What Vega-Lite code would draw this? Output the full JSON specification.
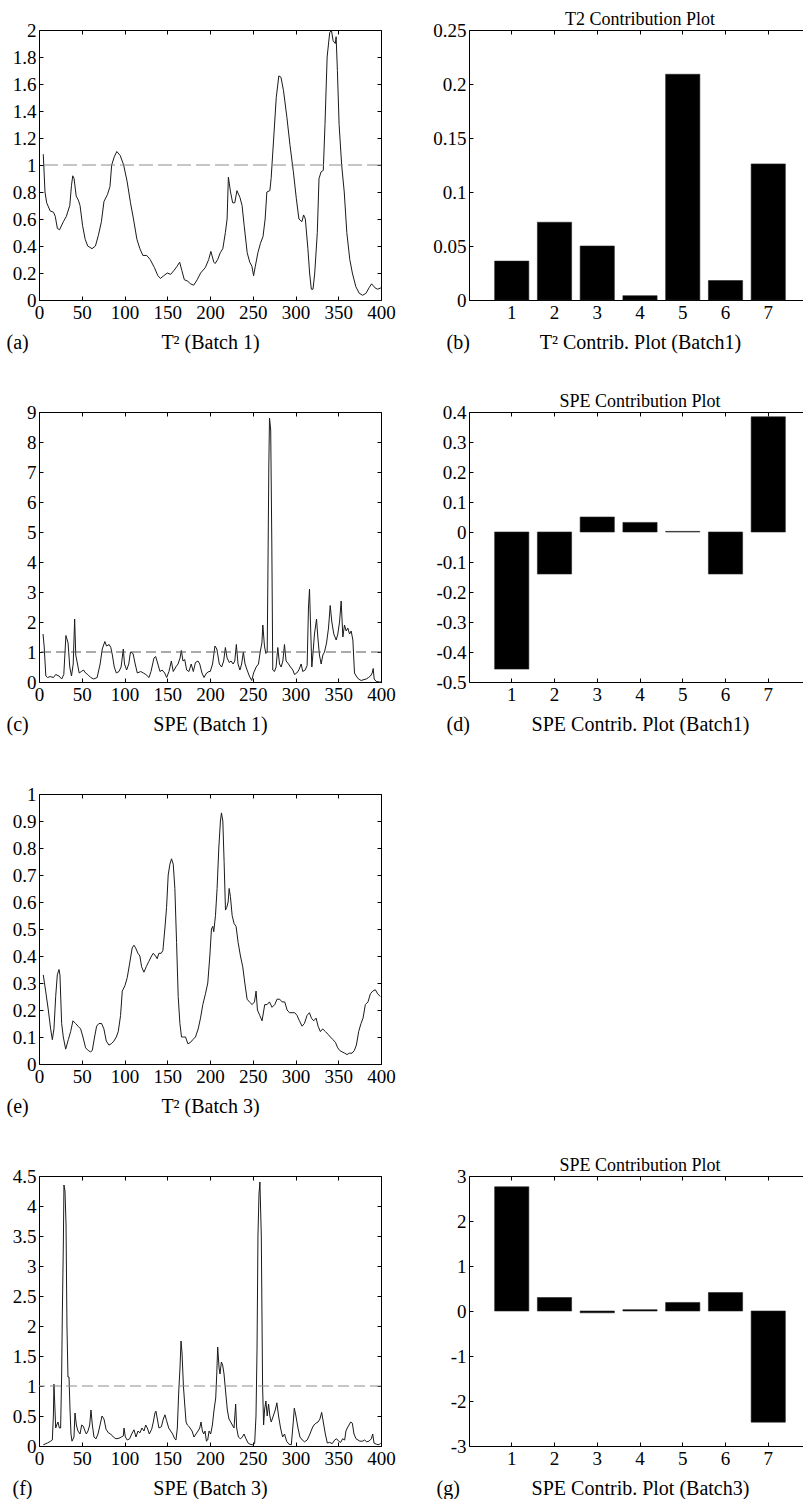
{
  "$schema": "https://vega.github.io/schema/vega-lite/v6.json",
  "background": "white",
  "padding": {"left": 5, "top": 10, "right": 0, "bottom": 0},
  "config": {
    "font": "Liberation Serif",
    "view": {"stroke": "black", "strokeWidth": 1},
    "axis": {"grid": false, "domain": false, "ticks": true, "tickColor": "black", "tickWidth": 1, "tickSize": -4, "labelFont": "Liberation Serif", "labelFontSize": 19, "labelColor": "black", "labelPadding": 7, "labelFlush": false, "labelOverlap": false, "labelBound": false, "titleFont": "Liberation Serif", "titleFontSize": 20, "titleFontWeight": "normal", "titleColor": "black"},
    "title": {"font": "Liberation Serif", "fontSize": 18, "fontWeight": "normal", "color": "black", "anchor": "middle", "frame": "group", "offset": -8}
  },
  "columns": 2,
  "spacing": {"row": 112, "column": 88},
  "bounds": "flush",
  "concat": [
    {
      "width": 342, "height": 270,
      "data": {"name": "a"},
      "layer": [
        {"mark": {"type": "line", "color": "#1a1a1a", "strokeWidth": 1},
         "encoding": {
           "x": {"field": "t", "type": "quantitative", "scale": {"domain": [0, 400], "nice": false, "zero": false},
                 "axis": {"orient": "bottom", "values": [0, 50, 100, 150, 200, 250, 300, 350, 400], "title": "T² (Batch 1)", "titleY": 42, "titleBaseline": "middle"}},
           "y": {"field": "v", "type": "quantitative", "scale": {"domain": [0, 2], "nice": false},
                 "axis": {"orient": "left", "values": [0, 0.2, 0.4, 0.6, 0.8, 1, 1.2, 1.4, 1.6, 1.8, 2], "labelExpr": "'' + datum.value", "title": "(a)", "titleAngle": 0, "titleX": -33, "titleY": 312, "titleAlign": "left", "titleBaseline": "middle"}}
         }},
        {"mark": {"type": "line", "opacity": 0},
         "encoding": {
           "x": {"field": "t", "type": "quantitative", "axis": {"orient": "top", "values": [0, 50, 100, 150, 200, 250, 300, 350, 400], "labels": false, "title": null}},
           "y": {"field": "v", "type": "quantitative", "axis": {"orient": "right", "values": [0, 0.2, 0.4, 0.6, 0.8, 1, 1.2, 1.4, 1.6, 1.8, 2], "labels": false, "title": null}}
         }},
        {"data": {"values": [{"limit": 1}]},
         "mark": {"type": "rule", "color": "#8c8c8c", "strokeWidth": 1, "strokeDash": [14, 5]},
         "encoding": {"y": {"field": "limit", "type": "quantitative", "axis": null}}}
      ],
      "resolve": {"axis": {"x": "independent", "y": "independent"}}
    },
    {
      "width": 342, "height": 270,
      "title": "T2 Contribution Plot",
      "data": {"name": "b"},
      "layer": [
        {"mark": {"type": "bar", "color": "black", "stroke": "#222", "strokeWidth": 0.6},
         "encoding": {
           "x": {"field": "k", "type": "ordinal", "scale": {"paddingInner": 0.2, "paddingOuter": 0.6},
                 "axis": {"orient": "bottom", "labelAngle": 0, "title": "T² Contrib. Plot (Batch1)", "titleY": 42, "titleBaseline": "middle"}},
           "y": {"field": "c", "type": "quantitative", "scale": {"domain": [0, 0.25], "nice": false},
                 "axis": {"orient": "left", "values": [0, 0.05, 0.1, 0.15, 0.2, 0.25], "labelExpr": "'' + datum.value", "title": "(b)", "titleAngle": 0, "titleX": -23, "titleY": 312, "titleAlign": "left", "titleBaseline": "middle"}}
         }},
        {"mark": {"type": "bar", "opacity": 0},
         "encoding": {
           "x": {"field": "k", "type": "ordinal", "axis": {"orient": "top", "labels": false, "title": null}},
           "y": {"field": "c", "type": "quantitative", "axis": {"orient": "right", "values": [0, 0.05, 0.1, 0.15, 0.2, 0.25], "labels": false, "title": null}}
         }}
      ],
      "resolve": {"axis": {"x": "independent", "y": "independent"}}
    },
    {
      "width": 342, "height": 270,
      "data": {"name": "c"},
      "layer": [
        {"mark": {"type": "line", "color": "#1a1a1a", "strokeWidth": 1},
         "encoding": {
           "x": {"field": "t", "type": "quantitative", "scale": {"domain": [0, 400], "nice": false, "zero": false},
                 "axis": {"orient": "bottom", "values": [0, 50, 100, 150, 200, 250, 300, 350, 400], "title": "SPE (Batch 1)", "titleY": 42, "titleBaseline": "middle"}},
           "y": {"field": "v", "type": "quantitative", "scale": {"domain": [0, 9], "nice": false},
                 "axis": {"orient": "left", "values": [0, 1, 2, 3, 4, 5, 6, 7, 8, 9], "labelExpr": "'' + datum.value", "title": "(c)", "titleAngle": 0, "titleX": -33, "titleY": 312, "titleAlign": "left", "titleBaseline": "middle"}}
         }},
        {"mark": {"type": "line", "opacity": 0},
         "encoding": {
           "x": {"field": "t", "type": "quantitative", "axis": {"orient": "top", "values": [0, 50, 100, 150, 200, 250, 300, 350, 400], "labels": false, "title": null}},
           "y": {"field": "v", "type": "quantitative", "axis": {"orient": "right", "values": [0, 1, 2, 3, 4, 5, 6, 7, 8, 9], "labels": false, "title": null}}
         }},
        {"data": {"values": [{"limit": 1}]},
         "mark": {"type": "rule", "color": "#555555", "strokeWidth": 1, "strokeDash": [10, 5]},
         "encoding": {"y": {"field": "limit", "type": "quantitative", "axis": null}}}
      ],
      "resolve": {"axis": {"x": "independent", "y": "independent"}}
    },
    {
      "width": 342, "height": 270,
      "title": "SPE Contribution Plot",
      "data": {"name": "d"},
      "layer": [
        {"mark": {"type": "bar", "color": "black", "stroke": "#222", "strokeWidth": 0.6},
         "encoding": {
           "x": {"field": "k", "type": "ordinal", "scale": {"paddingInner": 0.2, "paddingOuter": 0.6},
                 "axis": {"orient": "bottom", "labelAngle": 0, "title": "SPE Contrib. Plot (Batch1)", "titleY": 42, "titleBaseline": "middle"}},
           "y": {"field": "c", "type": "quantitative", "scale": {"domain": [-0.5, 0.4], "nice": false},
                 "axis": {"orient": "left", "values": [-0.5, -0.4, -0.3, -0.2, -0.1, 0, 0.1, 0.2, 0.3, 0.4], "labelExpr": "'' + datum.value", "title": "(d)", "titleAngle": 0, "titleX": -23, "titleY": 312, "titleAlign": "left", "titleBaseline": "middle"}}
         }},
        {"mark": {"type": "bar", "opacity": 0},
         "encoding": {
           "x": {"field": "k", "type": "ordinal", "axis": {"orient": "top", "labels": false, "title": null}},
           "y": {"field": "c", "type": "quantitative", "axis": {"orient": "right", "values": [-0.5, -0.4, -0.3, -0.2, -0.1, 0, 0.1, 0.2, 0.3, 0.4], "labels": false, "title": null}}
         }}
      ],
      "resolve": {"axis": {"x": "independent", "y": "independent"}}
    },
    {
      "width": 342, "height": 270,
      "data": {"name": "e"},
      "layer": [
        {"mark": {"type": "line", "color": "#1a1a1a", "strokeWidth": 1},
         "encoding": {
           "x": {"field": "t", "type": "quantitative", "scale": {"domain": [0, 400], "nice": false, "zero": false},
                 "axis": {"orient": "bottom", "values": [0, 50, 100, 150, 200, 250, 300, 350, 400], "title": "T² (Batch 3)", "titleY": 42, "titleBaseline": "middle"}},
           "y": {"field": "v", "type": "quantitative", "scale": {"domain": [0, 1], "nice": false},
                 "axis": {"orient": "left", "values": [0, 0.1, 0.2, 0.3, 0.4, 0.5, 0.6, 0.7, 0.8, 0.9, 1], "labelExpr": "'' + datum.value", "title": "(e)", "titleAngle": 0, "titleX": -33, "titleY": 312, "titleAlign": "left", "titleBaseline": "middle"}}
         }},
        {"mark": {"type": "line", "opacity": 0},
         "encoding": {
           "x": {"field": "t", "type": "quantitative", "axis": {"orient": "top", "values": [0, 50, 100, 150, 200, 250, 300, 350, 400], "labels": false, "title": null}},
           "y": {"field": "v", "type": "quantitative", "axis": {"orient": "right", "values": [0, 0.1, 0.2, 0.3, 0.4, 0.5, 0.6, 0.7, 0.8, 0.9, 1], "labels": false, "title": null}}
         }}
      ],
      "resolve": {"axis": {"x": "independent", "y": "independent"}}
    },
    {
      "width": 342, "height": 270,
      "data": {"values": []},
      "mark": "point",
      "view": {"stroke": null}
    },
    {
      "width": 342, "height": 270,
      "data": {"name": "f"},
      "layer": [
        {"mark": {"type": "line", "color": "#1a1a1a", "strokeWidth": 1},
         "encoding": {
           "x": {"field": "t", "type": "quantitative", "scale": {"domain": [0, 400], "nice": false, "zero": false},
                 "axis": {"orient": "bottom", "values": [0, 50, 100, 150, 200, 250, 300, 350, 400], "title": "SPE (Batch 3)", "titleY": 42, "titleBaseline": "middle"}},
           "y": {"field": "v", "type": "quantitative", "scale": {"domain": [0, 4.5], "nice": false},
                 "axis": {"orient": "left", "values": [0, 0.5, 1, 1.5, 2, 2.5, 3, 3.5, 4, 4.5], "labelExpr": "'' + datum.value", "title": "(f)", "titleAngle": 0, "titleX": -27, "titleY": 312, "titleAlign": "left", "titleBaseline": "middle"}}
         }},
        {"mark": {"type": "line", "opacity": 0},
         "encoding": {
           "x": {"field": "t", "type": "quantitative", "axis": {"orient": "top", "values": [0, 50, 100, 150, 200, 250, 300, 350, 400], "labels": false, "title": null}},
           "y": {"field": "v", "type": "quantitative", "axis": {"orient": "right", "values": [0, 0.5, 1, 1.5, 2, 2.5, 3, 3.5, 4, 4.5], "labels": false, "title": null}}
         }},
        {"data": {"values": [{"limit": 1}]},
         "mark": {"type": "rule", "color": "#8c8c8c", "strokeWidth": 1, "strokeDash": [11, 5]},
         "encoding": {"y": {"field": "limit", "type": "quantitative", "axis": null}}}
      ],
      "resolve": {"axis": {"x": "independent", "y": "independent"}}
    },
    {
      "width": 342, "height": 270,
      "title": "SPE Contribution Plot",
      "data": {"name": "g"},
      "layer": [
        {"mark": {"type": "bar", "color": "black", "stroke": "#222", "strokeWidth": 0.6},
         "encoding": {
           "x": {"field": "k", "type": "ordinal", "scale": {"paddingInner": 0.2, "paddingOuter": 0.6},
                 "axis": {"orient": "bottom", "labelAngle": 0, "title": "SPE Contrib. Plot (Batch3)", "titleY": 42, "titleBaseline": "middle"}},
           "y": {"field": "c", "type": "quantitative", "scale": {"domain": [-3, 3], "nice": false},
                 "axis": {"orient": "left", "values": [-3, -2, -1, 0, 1, 2, 3], "labelExpr": "'' + datum.value", "title": "(g)", "titleAngle": 0, "titleX": -33, "titleY": 312, "titleAlign": "left", "titleBaseline": "middle"}}
         }},
        {"mark": {"type": "bar", "opacity": 0},
         "encoding": {
           "x": {"field": "k", "type": "ordinal", "axis": {"orient": "top", "labels": false, "title": null}},
           "y": {"field": "c", "type": "quantitative", "axis": {"orient": "right", "values": [-3, -2, -1, 0, 1, 2, 3], "labels": false, "title": null}}
         }}
      ],
      "resolve": {"axis": {"x": "independent", "y": "independent"}}
    }
  ],
  "datasets": {
    "b": [{"k": "1", "c": 0.036}, {"k": "2", "c": 0.072}, {"k": "3", "c": 0.05}, {"k": "4", "c": 0.004}, {"k": "5", "c": 0.209}, {"k": "6", "c": 0.018}, {"k": "7", "c": 0.126}],
    "d": [{"k": "1", "c": -0.457}, {"k": "2", "c": -0.14}, {"k": "3", "c": 0.05}, {"k": "4", "c": 0.032}, {"k": "5", "c": 0.002}, {"k": "6", "c": -0.14}, {"k": "7", "c": 0.384}],
    "g": [{"k": "1", "c": 2.76}, {"k": "2", "c": 0.3}, {"k": "3", "c": -0.04}, {"k": "4", "c": 0.03}, {"k": "5", "c": 0.19}, {"k": "6", "c": 0.41}, {"k": "7", "c": -2.47}],
    "a": [
      {"t": 5, "v": 1.08}, {"t": 7, "v": 0.8}, {"t": 9, "v": 0.72}, {"t": 13, "v": 0.66}, {"t": 17, "v": 0.65}, {"t": 19, "v": 0.62}, {"t": 21.5, "v": 0.53}, {"t": 24, "v": 0.52}, {"t": 28.5, "v": 0.58}, {"t": 32, "v": 0.62}, {"t": 36, "v": 0.7}, {"t": 38, "v": 0.85}, {"t": 39.5, "v": 0.92}, {"t": 41, "v": 0.9}, {"t": 43.5, "v": 0.77}, {"t": 46, "v": 0.74}, {"t": 48, "v": 0.7}, {"t": 51, "v": 0.55}, {"t": 54, "v": 0.45}, {"t": 57, "v": 0.4}, {"t": 62, "v": 0.38}, {"t": 66, "v": 0.4}, {"t": 69.5, "v": 0.48}, {"t": 73, "v": 0.58}, {"t": 76, "v": 0.73}, {"t": 80, "v": 0.78}, {"t": 83, "v": 0.84}, {"t": 85, "v": 1.0}, {"t": 88, "v": 1.06}, {"t": 91, "v": 1.1}, {"t": 95, "v": 1.07}, {"t": 99, "v": 1.0}, {"t": 103, "v": 0.88}, {"t": 107, "v": 0.72}, {"t": 110.5, "v": 0.6}, {"t": 114.5, "v": 0.45}, {"t": 118, "v": 0.38}, {"t": 121.5, "v": 0.33}, {"t": 126, "v": 0.33}, {"t": 130, "v": 0.3}, {"t": 135, "v": 0.24}, {"t": 139, "v": 0.18}, {"t": 142, "v": 0.16}, {"t": 146, "v": 0.18}, {"t": 150, "v": 0.2}, {"t": 154, "v": 0.19}, {"t": 158, "v": 0.22}, {"t": 161.5, "v": 0.25}, {"t": 164.5, "v": 0.28}, {"t": 167, "v": 0.22}, {"t": 170, "v": 0.15}, {"t": 174, "v": 0.14}, {"t": 177, "v": 0.12}, {"t": 181, "v": 0.11}, {"t": 185, "v": 0.15}, {"t": 189, "v": 0.2}, {"t": 194.5, "v": 0.24}, {"t": 198.5, "v": 0.3}, {"t": 201, "v": 0.36}, {"t": 204.5, "v": 0.28}, {"t": 206, "v": 0.27}, {"t": 209, "v": 0.3}, {"t": 212, "v": 0.35}, {"t": 215, "v": 0.38}, {"t": 218, "v": 0.5}, {"t": 220, "v": 0.6}, {"t": 221.5, "v": 0.91}, {"t": 224, "v": 0.8}, {"t": 226.5, "v": 0.72}, {"t": 229, "v": 0.72}, {"t": 231.5, "v": 0.81}, {"t": 235, "v": 0.76}, {"t": 237.5, "v": 0.7}, {"t": 240, "v": 0.55}, {"t": 243.5, "v": 0.35}, {"t": 246.5, "v": 0.28}, {"t": 249, "v": 0.25}, {"t": 251, "v": 0.18}, {"t": 253, "v": 0.25}, {"t": 256, "v": 0.35}, {"t": 259, "v": 0.42}, {"t": 262, "v": 0.47}, {"t": 264.5, "v": 0.6}, {"t": 266.5, "v": 0.8}, {"t": 270, "v": 0.81}, {"t": 271.5, "v": 0.9}, {"t": 274.5, "v": 1.2}, {"t": 277.5, "v": 1.5}, {"t": 280.5, "v": 1.66}, {"t": 283, "v": 1.65}, {"t": 286, "v": 1.55}, {"t": 290, "v": 1.35}, {"t": 293.5, "v": 1.15}, {"t": 297.5, "v": 0.95}, {"t": 301, "v": 0.75}, {"t": 304, "v": 0.6}, {"t": 307.5, "v": 0.58}, {"t": 309.5, "v": 0.63}, {"t": 311.5, "v": 0.6}, {"t": 314.5, "v": 0.38}, {"t": 316.5, "v": 0.2}, {"t": 318.5, "v": 0.08}, {"t": 320.5, "v": 0.08}, {"t": 322.5, "v": 0.2}, {"t": 325.5, "v": 0.5}, {"t": 327.5, "v": 0.9}, {"t": 330, "v": 0.95}, {"t": 332.5, "v": 0.96}, {"t": 334.5, "v": 1.3}, {"t": 337, "v": 1.8}, {"t": 340, "v": 1.98}, {"t": 342, "v": 2.0}, {"t": 344, "v": 1.92}, {"t": 346.5, "v": 1.9}, {"t": 347.5, "v": 1.95}, {"t": 349, "v": 1.7}, {"t": 351, "v": 1.3}, {"t": 354, "v": 1.0}, {"t": 357, "v": 0.8}, {"t": 360, "v": 0.5}, {"t": 363.5, "v": 0.3}, {"t": 366.5, "v": 0.2}, {"t": 370.5, "v": 0.1}, {"t": 374.5, "v": 0.05}, {"t": 378.5, "v": 0.035}, {"t": 382.5, "v": 0.05}, {"t": 386, "v": 0.09}, {"t": 389, "v": 0.12}, {"t": 393, "v": 0.09}, {"t": 396, "v": 0.08}, {"t": 400, "v": 0.09}
    ],
    "c": [
      {"t": 4.7, "v": 1.6}, {"t": 6, "v": 1.2}, {"t": 8, "v": 0.2}, {"t": 10, "v": 0.15}, {"t": 13, "v": 0.18}, {"t": 17, "v": 0.15}, {"t": 19.5, "v": 0.25}, {"t": 23.4, "v": 0.2}, {"t": 26.5, "v": 0.1}, {"t": 29, "v": 0.25}, {"t": 31.5, "v": 1.55}, {"t": 34, "v": 1.3}, {"t": 36, "v": 0.5}, {"t": 38, "v": 0.2}, {"t": 40, "v": 0.6}, {"t": 41.7, "v": 2.1}, {"t": 43, "v": 0.9}, {"t": 45, "v": 0.6}, {"t": 47, "v": 0.3}, {"t": 49.5, "v": 0.35}, {"t": 52, "v": 0.4}, {"t": 54.5, "v": 0.3}, {"t": 57, "v": 0.25}, {"t": 60.5, "v": 0.15}, {"t": 64, "v": 0.1}, {"t": 68, "v": 0.15}, {"t": 71.5, "v": 0.6}, {"t": 74, "v": 1.1}, {"t": 77, "v": 1.35}, {"t": 79, "v": 1.2}, {"t": 82, "v": 1.25}, {"t": 84, "v": 1.15}, {"t": 85.8, "v": 0.9}, {"t": 88, "v": 0.5}, {"t": 90.5, "v": 0.3}, {"t": 93.5, "v": 0.35}, {"t": 96, "v": 0.5}, {"t": 98.6, "v": 1.1}, {"t": 100, "v": 0.6}, {"t": 102.5, "v": 0.4}, {"t": 105, "v": 0.6}, {"t": 107, "v": 1.0}, {"t": 110, "v": 0.95}, {"t": 112.5, "v": 0.6}, {"t": 115, "v": 0.3}, {"t": 119, "v": 0.35}, {"t": 122, "v": 0.3}, {"t": 125, "v": 0.25}, {"t": 128.7, "v": 0.15}, {"t": 131, "v": 0.35}, {"t": 134.5, "v": 0.8}, {"t": 136.5, "v": 0.85}, {"t": 139, "v": 0.6}, {"t": 141.5, "v": 0.35}, {"t": 144, "v": 0.4}, {"t": 147, "v": 0.3}, {"t": 149.3, "v": 0.15}, {"t": 152, "v": 0.35}, {"t": 154.8, "v": 0.7}, {"t": 157, "v": 0.35}, {"t": 160, "v": 0.5}, {"t": 162.6, "v": 0.6}, {"t": 165, "v": 0.8}, {"t": 166.5, "v": 1.05}, {"t": 168.4, "v": 0.7}, {"t": 170.4, "v": 0.75}, {"t": 172.7, "v": 0.4}, {"t": 175.4, "v": 0.35}, {"t": 178, "v": 0.6}, {"t": 180.5, "v": 0.35}, {"t": 183, "v": 0.65}, {"t": 186, "v": 0.7}, {"t": 188, "v": 0.6}, {"t": 190.6, "v": 0.3}, {"t": 193, "v": 0.15}, {"t": 196, "v": 0.3}, {"t": 198.8, "v": 0.35}, {"t": 200.3, "v": 0.35}, {"t": 203, "v": 0.6}, {"t": 205.8, "v": 1.2}, {"t": 208, "v": 1.1}, {"t": 210.9, "v": 0.6}, {"t": 213.6, "v": 0.5}, {"t": 216, "v": 0.7}, {"t": 218, "v": 1.15}, {"t": 220, "v": 0.8}, {"t": 222.6, "v": 0.65}, {"t": 224.6, "v": 0.7}, {"t": 227, "v": 0.6}, {"t": 229, "v": 0.7}, {"t": 230.8, "v": 1.25}, {"t": 232.8, "v": 0.6}, {"t": 235, "v": 0.4}, {"t": 237, "v": 0.6}, {"t": 239, "v": 1.0}, {"t": 241, "v": 0.6}, {"t": 243.4, "v": 0.4}, {"t": 246, "v": 0.2}, {"t": 248.8, "v": 0.05}, {"t": 251, "v": 0.3}, {"t": 254, "v": 0.5}, {"t": 256.7, "v": 0.6}, {"t": 258.7, "v": 1.0}, {"t": 260.7, "v": 1.3}, {"t": 261.8, "v": 1.9}, {"t": 263.7, "v": 1.2}, {"t": 265.3, "v": 0.95}, {"t": 266.9, "v": 1.0}, {"t": 267.6, "v": 3.2}, {"t": 268.8, "v": 7.2}, {"t": 269.6, "v": 8.8}, {"t": 271, "v": 8.4}, {"t": 272.3, "v": 4.6}, {"t": 273.4, "v": 0.4}, {"t": 275.4, "v": 0.35}, {"t": 277.3, "v": 0.5}, {"t": 279.3, "v": 1.15}, {"t": 281.3, "v": 0.6}, {"t": 283.2, "v": 0.5}, {"t": 285.2, "v": 0.7}, {"t": 287.1, "v": 1.25}, {"t": 289, "v": 0.7}, {"t": 291.8, "v": 0.6}, {"t": 294.1, "v": 0.5}, {"t": 296.9, "v": 0.4}, {"t": 298.8, "v": 0.25}, {"t": 301.5, "v": 0.3}, {"t": 303.9, "v": 0.4}, {"t": 306.6, "v": 0.6}, {"t": 308.5, "v": 0.35}, {"t": 311.3, "v": 0.4}, {"t": 313.6, "v": 0.55}, {"t": 315.2, "v": 2.5}, {"t": 316.4, "v": 3.1}, {"t": 317.5, "v": 2.0}, {"t": 319.1, "v": 0.5}, {"t": 320.3, "v": 0.9}, {"t": 322.2, "v": 1.6}, {"t": 324.6, "v": 2.1}, {"t": 326.1, "v": 1.5}, {"t": 328, "v": 0.9}, {"t": 330, "v": 0.6}, {"t": 332, "v": 0.9}, {"t": 333.9, "v": 1.0}, {"t": 336.3, "v": 1.3}, {"t": 338.6, "v": 1.8}, {"t": 340.6, "v": 2.55}, {"t": 342.5, "v": 2.0}, {"t": 344.8, "v": 1.6}, {"t": 347.6, "v": 1.4}, {"t": 349.5, "v": 1.6}, {"t": 351.5, "v": 2.0}, {"t": 353.4, "v": 2.7}, {"t": 355.4, "v": 1.5}, {"t": 357.3, "v": 1.9}, {"t": 359.3, "v": 1.7}, {"t": 361.2, "v": 1.8}, {"t": 363.2, "v": 1.6}, {"t": 365.1, "v": 1.7}, {"t": 367.1, "v": 1.4}, {"t": 369, "v": 0.3}, {"t": 371, "v": 0.2}, {"t": 373.7, "v": 0.1}, {"t": 376.8, "v": 0.05}, {"t": 380, "v": 0.08}, {"t": 382.7, "v": 0.1}, {"t": 385.4, "v": 0.15}, {"t": 387.7, "v": 0.2}, {"t": 389.7, "v": 0.3}, {"t": 390.9, "v": 0.45}, {"t": 392, "v": 0.1}, {"t": 394.4, "v": 0.02}, {"t": 398.3, "v": 0.0}, {"t": 400, "v": 0.0}
    ],
    "e": [
      {"t": 5, "v": 0.33}, {"t": 7.8, "v": 0.27}, {"t": 10.9, "v": 0.2}, {"t": 13.6, "v": 0.13}, {"t": 15.6, "v": 0.09}, {"t": 17.5, "v": 0.13}, {"t": 19.5, "v": 0.25}, {"t": 21.4, "v": 0.33}, {"t": 23.4, "v": 0.35}, {"t": 24.5, "v": 0.33}, {"t": 26.5, "v": 0.15}, {"t": 28.4, "v": 0.1}, {"t": 31.2, "v": 0.055}, {"t": 34.3, "v": 0.09}, {"t": 37, "v": 0.12}, {"t": 39.7, "v": 0.16}, {"t": 42.8, "v": 0.15}, {"t": 45.6, "v": 0.14}, {"t": 48.7, "v": 0.13}, {"t": 51.4, "v": 0.1}, {"t": 54.5, "v": 0.06}, {"t": 57.6, "v": 0.05}, {"t": 60.4, "v": 0.045}, {"t": 62.3, "v": 0.05}, {"t": 65, "v": 0.1}, {"t": 67.4, "v": 0.14}, {"t": 70.1, "v": 0.15}, {"t": 73.2, "v": 0.15}, {"t": 75.9, "v": 0.13}, {"t": 78.7, "v": 0.085}, {"t": 81.8, "v": 0.07}, {"t": 84.5, "v": 0.075}, {"t": 87.6, "v": 0.085}, {"t": 90.4, "v": 0.1}, {"t": 92.7, "v": 0.12}, {"t": 95.4, "v": 0.18}, {"t": 97.4, "v": 0.27}, {"t": 100.5, "v": 0.29}, {"t": 103.2, "v": 0.32}, {"t": 105.9, "v": 0.37}, {"t": 109, "v": 0.43}, {"t": 111, "v": 0.44}, {"t": 113, "v": 0.43}, {"t": 115.7, "v": 0.41}, {"t": 118, "v": 0.4}, {"t": 120, "v": 0.36}, {"t": 122.7, "v": 0.34}, {"t": 125.4, "v": 0.36}, {"t": 128.5, "v": 0.38}, {"t": 131.6, "v": 0.4}, {"t": 133.6, "v": 0.41}, {"t": 136.3, "v": 0.4}, {"t": 138.2, "v": 0.39}, {"t": 140.2, "v": 0.41}, {"t": 142.9, "v": 0.41}, {"t": 144.9, "v": 0.42}, {"t": 147.2, "v": 0.5}, {"t": 149.2, "v": 0.58}, {"t": 151.1, "v": 0.7}, {"t": 153.1, "v": 0.74}, {"t": 155, "v": 0.76}, {"t": 157, "v": 0.74}, {"t": 158.9, "v": 0.65}, {"t": 160.9, "v": 0.45}, {"t": 162.8, "v": 0.25}, {"t": 164.8, "v": 0.15}, {"t": 166.7, "v": 0.1}, {"t": 168.7, "v": 0.1}, {"t": 171.4, "v": 0.1}, {"t": 174.1, "v": 0.075}, {"t": 177.2, "v": 0.08}, {"t": 179.9, "v": 0.09}, {"t": 183, "v": 0.1}, {"t": 186.2, "v": 0.13}, {"t": 188.9, "v": 0.17}, {"t": 191.6, "v": 0.22}, {"t": 194.7, "v": 0.26}, {"t": 197.4, "v": 0.3}, {"t": 199.8, "v": 0.4}, {"t": 201.7, "v": 0.5}, {"t": 203.3, "v": 0.51}, {"t": 204.4, "v": 0.49}, {"t": 206.4, "v": 0.55}, {"t": 208.3, "v": 0.65}, {"t": 210.3, "v": 0.8}, {"t": 212.2, "v": 0.9}, {"t": 213.4, "v": 0.93}, {"t": 215, "v": 0.9}, {"t": 216.5, "v": 0.75}, {"t": 218.1, "v": 0.57}, {"t": 219.6, "v": 0.58}, {"t": 221.2, "v": 0.6}, {"t": 222.4, "v": 0.65}, {"t": 223.9, "v": 0.62}, {"t": 225.9, "v": 0.55}, {"t": 228.2, "v": 0.52}, {"t": 230.5, "v": 0.51}, {"t": 232.9, "v": 0.45}, {"t": 235.6, "v": 0.4}, {"t": 238.3, "v": 0.36}, {"t": 240.7, "v": 0.3}, {"t": 243.4, "v": 0.24}, {"t": 246.1, "v": 0.23}, {"t": 249.3, "v": 0.22}, {"t": 252, "v": 0.23}, {"t": 253.9, "v": 0.27}, {"t": 255.5, "v": 0.2}, {"t": 258.2, "v": 0.18}, {"t": 260.9, "v": 0.16}, {"t": 264, "v": 0.22}, {"t": 266.8, "v": 0.22}, {"t": 269.5, "v": 0.23}, {"t": 272.6, "v": 0.21}, {"t": 275.7, "v": 0.22}, {"t": 278.4, "v": 0.24}, {"t": 281.5, "v": 0.24}, {"t": 284.3, "v": 0.23}, {"t": 287.4, "v": 0.23}, {"t": 290.2, "v": 0.2}, {"t": 292.9, "v": 0.19}, {"t": 296, "v": 0.19}, {"t": 299.1, "v": 0.19}, {"t": 301.8, "v": 0.18}, {"t": 304.6, "v": 0.16}, {"t": 307.7, "v": 0.14}, {"t": 310.4, "v": 0.15}, {"t": 313.5, "v": 0.18}, {"t": 316.3, "v": 0.19}, {"t": 318.6, "v": 0.17}, {"t": 321.3, "v": 0.16}, {"t": 324.1, "v": 0.17}, {"t": 326.4, "v": 0.14}, {"t": 329.1, "v": 0.12}, {"t": 331.8, "v": 0.13}, {"t": 335, "v": 0.12}, {"t": 338.1, "v": 0.11}, {"t": 340.8, "v": 0.1}, {"t": 343.9, "v": 0.09}, {"t": 346.7, "v": 0.08}, {"t": 349.4, "v": 0.06}, {"t": 351.7, "v": 0.05}, {"t": 354.4, "v": 0.045}, {"t": 357.6, "v": 0.04}, {"t": 360.3, "v": 0.035}, {"t": 363, "v": 0.04}, {"t": 366.1, "v": 0.04}, {"t": 368.8, "v": 0.05}, {"t": 371.2, "v": 0.07}, {"t": 373.9, "v": 0.12}, {"t": 376.6, "v": 0.15}, {"t": 379, "v": 0.17}, {"t": 381.7, "v": 0.22}, {"t": 384.8, "v": 0.23}, {"t": 387.6, "v": 0.26}, {"t": 390.3, "v": 0.27}, {"t": 393.4, "v": 0.275}, {"t": 396.1, "v": 0.26}, {"t": 399.2, "v": 0.25}
    ],
    "f": [
      {"t": 5, "v": 0.02}, {"t": 9.8, "v": 0.05}, {"t": 13.7, "v": 0.08}, {"t": 15.6, "v": 0.1}, {"t": 16.8, "v": 0.5}, {"t": 17.5, "v": 1.03}, {"t": 18.7, "v": 0.6}, {"t": 19.5, "v": 0.3}, {"t": 20.7, "v": 0.35}, {"t": 22.2, "v": 0.4}, {"t": 23.8, "v": 0.3}, {"t": 25.3, "v": 0.3}, {"t": 26.5, "v": 1.2}, {"t": 27.3, "v": 2.2}, {"t": 28.5, "v": 3.4}, {"t": 29.2, "v": 4.35}, {"t": 30.4, "v": 4.25}, {"t": 31.6, "v": 3.7}, {"t": 32.7, "v": 2.0}, {"t": 33.9, "v": 1.15}, {"t": 35.1, "v": 1.15}, {"t": 36.3, "v": 0.6}, {"t": 37.4, "v": 0.2}, {"t": 38.6, "v": 0.08}, {"t": 40.9, "v": 0.15}, {"t": 42.1, "v": 0.55}, {"t": 43.7, "v": 0.35}, {"t": 45.6, "v": 0.25}, {"t": 48, "v": 0.2}, {"t": 49.9, "v": 0.35}, {"t": 51.8, "v": 0.33}, {"t": 53.8, "v": 0.25}, {"t": 55.4, "v": 0.2}, {"t": 57.3, "v": 0.25}, {"t": 59.3, "v": 0.35}, {"t": 60.8, "v": 0.6}, {"t": 62.4, "v": 0.35}, {"t": 64.3, "v": 0.15}, {"t": 66.7, "v": 0.12}, {"t": 69, "v": 0.2}, {"t": 71.4, "v": 0.35}, {"t": 73.7, "v": 0.5}, {"t": 76, "v": 0.45}, {"t": 78.4, "v": 0.28}, {"t": 81.1, "v": 0.22}, {"t": 83.8, "v": 0.2}, {"t": 87, "v": 0.15}, {"t": 90, "v": 0.12}, {"t": 93.6, "v": 0.13}, {"t": 96.3, "v": 0.15}, {"t": 98.7, "v": 0.17}, {"t": 99.4, "v": 0.3}, {"t": 101, "v": 0.15}, {"t": 103.3, "v": 0.1}, {"t": 106, "v": 0.12}, {"t": 108.4, "v": 0.2}, {"t": 111.1, "v": 0.27}, {"t": 113.4, "v": 0.15}, {"t": 115.8, "v": 0.25}, {"t": 118.1, "v": 0.22}, {"t": 120.4, "v": 0.3}, {"t": 122.8, "v": 0.25}, {"t": 124.8, "v": 0.35}, {"t": 126.7, "v": 0.3}, {"t": 129, "v": 0.2}, {"t": 131.8, "v": 0.28}, {"t": 133.7, "v": 0.4}, {"t": 135.6, "v": 0.55}, {"t": 136.8, "v": 0.58}, {"t": 138.4, "v": 0.45}, {"t": 140.3, "v": 0.3}, {"t": 143.1, "v": 0.32}, {"t": 145.4, "v": 0.45}, {"t": 147.3, "v": 0.52}, {"t": 149.3, "v": 0.42}, {"t": 151.7, "v": 0.3}, {"t": 154, "v": 0.25}, {"t": 156.3, "v": 0.2}, {"t": 158.7, "v": 0.12}, {"t": 160.2, "v": 0.1}, {"t": 161.8, "v": 0.3}, {"t": 163.4, "v": 0.9}, {"t": 164.9, "v": 1.3}, {"t": 166.1, "v": 1.75}, {"t": 167.3, "v": 1.55}, {"t": 168.9, "v": 1.0}, {"t": 170.4, "v": 0.7}, {"t": 172, "v": 0.4}, {"t": 173.5, "v": 0.35}, {"t": 175.1, "v": 0.33}, {"t": 176.6, "v": 0.3}, {"t": 179, "v": 0.25}, {"t": 181.3, "v": 0.15}, {"t": 183.6, "v": 0.2}, {"t": 186, "v": 0.25}, {"t": 188, "v": 0.3}, {"t": 189.5, "v": 0.4}, {"t": 191.1, "v": 0.25}, {"t": 192.6, "v": 0.2}, {"t": 194.2, "v": 0.25}, {"t": 195.8, "v": 0.08}, {"t": 197.3, "v": 0.1}, {"t": 198.9, "v": 0.25}, {"t": 200.8, "v": 0.2}, {"t": 202.8, "v": 0.35}, {"t": 204.7, "v": 0.6}, {"t": 206.7, "v": 0.8}, {"t": 207.9, "v": 1.2}, {"t": 209, "v": 1.65}, {"t": 210.6, "v": 1.3}, {"t": 211.7, "v": 1.2}, {"t": 213.3, "v": 1.4}, {"t": 214.8, "v": 1.35}, {"t": 216.4, "v": 1.2}, {"t": 218.3, "v": 0.9}, {"t": 220.3, "v": 0.6}, {"t": 222.2, "v": 0.45}, {"t": 224.2, "v": 0.4}, {"t": 226.1, "v": 0.35}, {"t": 228.1, "v": 0.3}, {"t": 230, "v": 0.7}, {"t": 231.2, "v": 0.3}, {"t": 233.2, "v": 0.15}, {"t": 235.8, "v": 0.12}, {"t": 237.8, "v": 0.15}, {"t": 239.8, "v": 0.2}, {"t": 242.1, "v": 0.12}, {"t": 244.5, "v": 0.05}, {"t": 246.8, "v": 0.03}, {"t": 249.5, "v": 0.02}, {"t": 252.2, "v": 0.04}, {"t": 253.8, "v": 0.5}, {"t": 255, "v": 1.6}, {"t": 256.1, "v": 3.5}, {"t": 257.3, "v": 4.2}, {"t": 258.4, "v": 4.4}, {"t": 260, "v": 3.5}, {"t": 261.5, "v": 1.0}, {"t": 262.7, "v": 0.35}, {"t": 263.8, "v": 0.6}, {"t": 265.4, "v": 0.75}, {"t": 266.9, "v": 0.5}, {"t": 268.5, "v": 0.7}, {"t": 270, "v": 0.5}, {"t": 271.6, "v": 0.4}, {"t": 274, "v": 0.5}, {"t": 276.3, "v": 0.6}, {"t": 278.2, "v": 0.72}, {"t": 280.2, "v": 0.5}, {"t": 282.5, "v": 0.3}, {"t": 284.9, "v": 0.15}, {"t": 287.2, "v": 0.2}, {"t": 289.6, "v": 0.08}, {"t": 292.3, "v": 0.03}, {"t": 295.1, "v": 0.02}, {"t": 297.4, "v": 0.4}, {"t": 298.6, "v": 0.63}, {"t": 300.5, "v": 0.5}, {"t": 302.9, "v": 0.3}, {"t": 305.2, "v": 0.15}, {"t": 307.9, "v": 0.1}, {"t": 310.6, "v": 0.07}, {"t": 313.7, "v": 0.1}, {"t": 316.9, "v": 0.2}, {"t": 319.6, "v": 0.3}, {"t": 321.6, "v": 0.35}, {"t": 323.9, "v": 0.38}, {"t": 326.3, "v": 0.4}, {"t": 328.6, "v": 0.45}, {"t": 330.6, "v": 0.56}, {"t": 332.5, "v": 0.4}, {"t": 334.9, "v": 0.2}, {"t": 337.2, "v": 0.05}, {"t": 339.9, "v": 0.06}, {"t": 343, "v": 0.04}, {"t": 345.8, "v": 0.1}, {"t": 348.1, "v": 0.12}, {"t": 350.5, "v": 0.08}, {"t": 352.8, "v": 0.06}, {"t": 355.1, "v": 0.12}, {"t": 357.5, "v": 0.1}, {"t": 359, "v": 0.25}, {"t": 360.6, "v": 0.3}, {"t": 362.6, "v": 0.35}, {"t": 364.5, "v": 0.4}, {"t": 366.5, "v": 0.38}, {"t": 368.4, "v": 0.2}, {"t": 370.8, "v": 0.12}, {"t": 373.1, "v": 0.1}, {"t": 375.4, "v": 0.08}, {"t": 378.2, "v": 0.08}, {"t": 380.9, "v": 0.1}, {"t": 383.2, "v": 0.07}, {"t": 385.9, "v": 0.08}, {"t": 388.7, "v": 0.12}, {"t": 390.3, "v": 0.2}, {"t": 391.8, "v": 0.05}, {"t": 394.5, "v": 0.03}, {"t": 397.6, "v": 0.02}, {"t": 399.6, "v": 0.05}
    ]
  }
}
